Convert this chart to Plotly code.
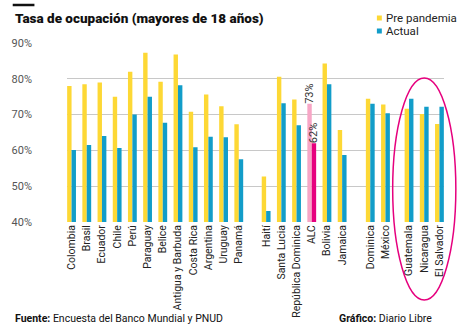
import plotly.graph_objects as go

# Employment rate (population aged 18+), before the pandemic and now
groups = [
    ["Colombia", "Brasil", "Ecuador", "Chile", "Perú", "Paraguay", "Belice",
     "Antigua y Barbuda", "Costa Rica", "Argentina", "Uruguay", "Panamá"],
    ["Haití", "Santa Lucia", "República Dominica", "ALC", "Bolivia", "Jamaica"],
    ["Dominica", "México"],
    ["Guatemala", "Nicaragua", "El Salvador"],
]
pre_pandemia = [78, 78.5, 79, 75, 82, 87.3, 79.2, 86.8, 70.8, 75.6, 72.3, 67.3,
                52.7, 80.6, 74.2, 73, 84.3, 65.7,
                74.4, 72.8,
                71.6, 70.2, 67.4]
actual = [60.1, 61.5, 64, 60.7, 70, 75, 67.7, 78.2, 60.9, 63.8, 63.7, 57.5,
          43.1, 73.2, 67, 62, 78.5, 58.7,
          73, 70.4,
          74.4, 72.2, 72.2]
y_ticks = [40, 50, 60, 70, 80, 90]
highlight = "ALC"

# extra spacing inserted before each country group (in category units)
group_gaps = [0, 0.8, 0.85, 0.55]

YELLOW = "#FDD835"
BLUE = "#129DC9"
PINK = "#F7A6C6"
MAGENTA = "#E6007E"
FONT = "Roboto"

countries, xpos = [], []
offset = 0.0
idx = 0
for g, gap in zip(groups, group_gaps):
    offset += gap
    for c in g:
        countries.append(c)
        xpos.append(idx + offset)
        idx += 1

pre_colors = [PINK if c == highlight else YELLOW for c in countries]
act_colors = [MAGENTA if c == highlight else BLUE for c in countries]
pre_text = [f"{v:.0f}%" if c == highlight else "" for c, v in zip(countries, pre_pandemia)]
act_text = [f"{v:.0f}%" if c == highlight else "" for c, v in zip(countries, actual)]

fig = go.Figure()
fig.add_trace(go.Bar(
    x=xpos, y=pre_pandemia, name="Pre pandemia", marker_color=pre_colors,
    marker_line_width=0, text=pre_text, textposition="outside", textangle=-90,
    constraintext="none", cliponaxis=False,
    textfont=dict(family=FONT, size=11, color="#333333"),
    showlegend=False,
))
fig.add_trace(go.Bar(
    x=xpos, y=actual, name="Actual", marker_color=act_colors,
    marker_line_width=0, text=act_text, textposition="outside", textangle=-90,
    constraintext="none", cliponaxis=False,
    textfont=dict(family=FONT, size=11, color="#333333"),
    showlegend=False,
))

L, R, T, B = 62, 30, 43, 108
fig.update_layout(
    width=474, height=330,
    margin=dict(l=L, r=R, t=T, b=B, pad=0),
    paper_bgcolor="white", plot_bgcolor="white",
    barmode="group", bargap=0.42, bargroupgap=0,
    font=dict(family=FONT, color="#222222"),
    xaxis=dict(
        range=[xpos[0] - 0.3, xpos[-1] + 0.3],
        tickmode="array", tickvals=xpos, ticktext=countries,
        tickangle=-90, showgrid=False, zeroline=False, showline=False,
        ticks="", tickfont=dict(family=FONT, size=10.5, color="#222222"),
        fixedrange=True,
    ),
    yaxis=dict(
        range=[40, 90], tickmode="array", tickvals=y_ticks,
        ticktext=[f"{v}%" for v in y_ticks],
        showgrid=True, gridcolor="#C8C8C8", gridwidth=1,
        zeroline=False, showline=False, ticks="",
        ticklabelstandoff=34,
        tickfont=dict(family=FONT, size=11, color="#555555"),
        fixedrange=True,
    ),
)

# title, accent bar and footer
fig.add_shape(type="line", xref="paper", yref="paper",
              x0=-55 / 382, x1=-33 / 382, y0=1 + 38 / 179, y1=1 + 38 / 179,
              line=dict(color="#111111", width=2.5))
fig.add_annotation(text="Tasa de ocupación (mayores de 18 años)",
                   xref="paper", yref="paper", x=-55 / 382, y=1 + 25 / 179,
                   xanchor="left", yanchor="middle", showarrow=False,
                   font=dict(family=FONT, size=13.5, weight=900, color="#111111"))
fig.add_annotation(text="<b>Fuente:</b> Encuesta del Banco Mundial y PNUD",
                   xref="paper", yref="paper", x=-55 / 382, y=-96 / 179,
                   xanchor="left", yanchor="middle", showarrow=False,
                   font=dict(family=FONT, size=10.5, color="#111111"))
fig.add_annotation(text="<b>Gráfico:</b> Diario Libre",
                   xref="paper", yref="paper", x=(434 - L) / 382, y=-96 / 179,
                   xanchor="right", yanchor="middle", showarrow=False,
                   font=dict(family=FONT, size=10.5, color="#111111"))

# custom legend
for i, (label, col) in enumerate([("Pre pandemia", YELLOW), ("Actual", BLUE)]):
    yc = 1 + (25 - 13 * i) / 179
    fig.add_shape(type="rect", xref="paper", yref="paper",
                  x0=(376 - L) / 382, x1=(381 - L) / 382,
                  y0=yc - 2.5 / 179, y1=yc + 2.5 / 179,
                  fillcolor=col, line_width=0)
    fig.add_annotation(text=label, xref="paper", yref="paper",
                       x=(383 - L) / 382, y=yc, xanchor="left", yanchor="middle",
                       showarrow=False,
                       font=dict(family=FONT, size=11.5, color="#222222"))

# ellipse around the last group
fig.add_shape(type="circle", xref="paper", yref="paper",
              x0=(392 - L) / 382, x1=(456 - L) / 382,
              y0=(222 - 300) / 179, y1=(222 - 78) / 179,
              line=dict(color=MAGENTA, width=1.5), fillcolor="rgba(0,0,0,0)")

fig.write_html("out.html")
